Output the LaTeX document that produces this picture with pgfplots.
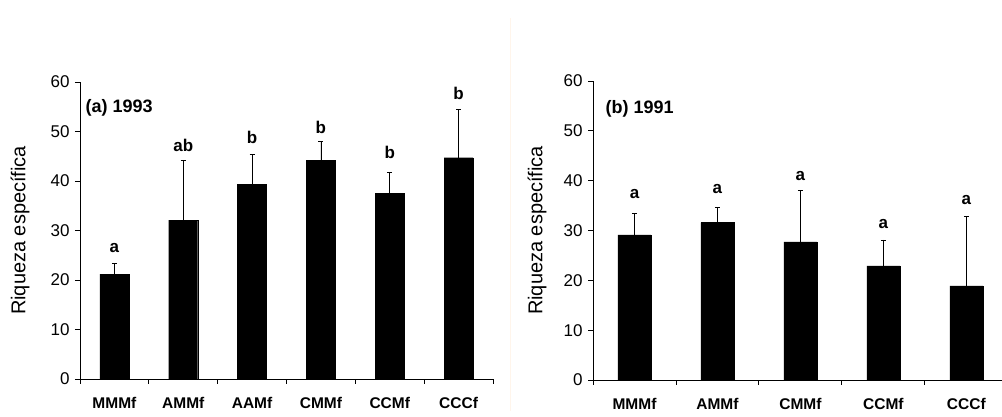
\documentclass[border=0pt]{standalone}
\usepackage{pgfplots}
\pgfplotsset{compat=1.18}
\usepackage{fontspec}
\setmainfont{Liberation Sans}
\tikzset{letter/.style={font=\bfseries\fontsize{17}{17}\selectfont}}
\begin{document}
\begin{tikzpicture}
\pgfplotsset{
  myax/.style={
    scale only axis,
    axis lines=left,
    axis line style={line width=0.9pt, -},
    ymin=0, ymax=60, ytick={0,10,...,60},
    tick align=outside,
    major tick length=5pt, minor tick length=5pt,
    major x tick style={draw=none},
    minor x tick style={line width=0.9pt, black},
    y tick style={line width=0.9pt, black},
    /pgf/number format/assume math mode=true,
    yticklabel style={font=\fontsize{17}{17}\selectfont, xshift=-2pt},
    xticklabel style={font=\bfseries\fontsize{15.5}{15.5}\selectfont, yshift=-10pt},
    ylabel={Riqueza específica},
    ylabel style={font=\fontsize{20}{20}\selectfont, anchor=center},
    ybar, bar shift=0pt,
    clip=false,
  },
}
\begin{axis}[myax, at={(80pt,38pt)}, anchor=south west, width=413pt, height=297pt,
  xmin=-0.5, xmax=5.5, xtick={0,...,5},
  xticklabels={MMMf,AMMf,AAMf,CMMf,CCMf,CCCf},
  minor xtick={-0.5,0.5,...,5.5},
  bar width=29pt,
  ylabel style={at={(axis description cs:-0.145,0.5)}}]
\addplot[fill=black, draw=black,
  error bars/.cd, y dir=plus, y explicit,
  error mark=-, error mark options={line width=0.8pt, mark size=2.5pt, rotate=90},
  error bar style={line width=0.8pt, black}]
  coordinates {
  (0,21.2) +- (0,2.1)
  (1,32.1) +- (0,12.1)
  (2,39.3) +- (0,6.0)
  (3,44.2) +- (0,3.7)
  (4,37.5) +- (0,4.3)
  (5,44.7) +- (0,9.8)
  };
\node[letter] at (axis cs:0,26.4) {a};
\node[letter] at (axis cs:1,47.2) {ab};
\node[letter] at (axis cs:2,48.9) {b};
\node[letter] at (axis cs:3,50.9) {b};
\node[letter] at (axis cs:4,45.7) {b};
\node[letter] at (axis cs:5,57.6) {b};
\node[font=\bfseries\fontsize{18}{18}\selectfont, anchor=west, inner sep=0pt] at (axis cs:-0.42,54.8) {(a) 1993};
\end{axis}
\begin{axis}[myax, at={(593pt,37pt)}, anchor=south west, width=409pt, height=299pt,
  xmin=-0.5, xmax=4.43, xtick={0,...,4},
  xticklabels={MMMf,AMMf,CMMf,CCMf,CCCf},
  minor xtick={-0.5,0.5,...,3.5},
  bar width=33pt,
  ylabel style={at={(axis description cs:-0.137,0.5)}}]
\addplot[fill=black, draw=black,
  error bars/.cd, y dir=plus, y explicit,
  error mark=-, error mark options={line width=0.8pt, mark size=2.5pt, rotate=90},
  error bar style={line width=0.8pt, black}]
  coordinates {
  (0,29.1) +- (0,4.3)
  (1,31.6) +- (0,3.1)
  (2,27.7) +- (0,10.4)
  (3,22.9) +- (0,5.2)
  (4,18.9) +- (0,14.0)
  };
\node[letter] at (axis cs:0,37.4) {a};
\node[letter] at (axis cs:1,38.4) {a};
\node[letter] at (axis cs:2,40.9) {a};
\node[letter] at (axis cs:3,31.4) {a};
\node[letter] at (axis cs:4,36.1) {a};
\node[font=\bfseries\fontsize{18}{18}\selectfont, anchor=west, inner sep=0pt] at (axis cs:-0.35,54.5) {(b) 1991};
\end{axis}
\draw[color=orange!8, line width=0.8pt] (510pt,6pt) -- (510pt,399pt);
\pgfresetboundingbox
\path[use as bounding box] (0pt,0pt) rectangle (1002pt,417pt);
\end{tikzpicture}
\end{document}
